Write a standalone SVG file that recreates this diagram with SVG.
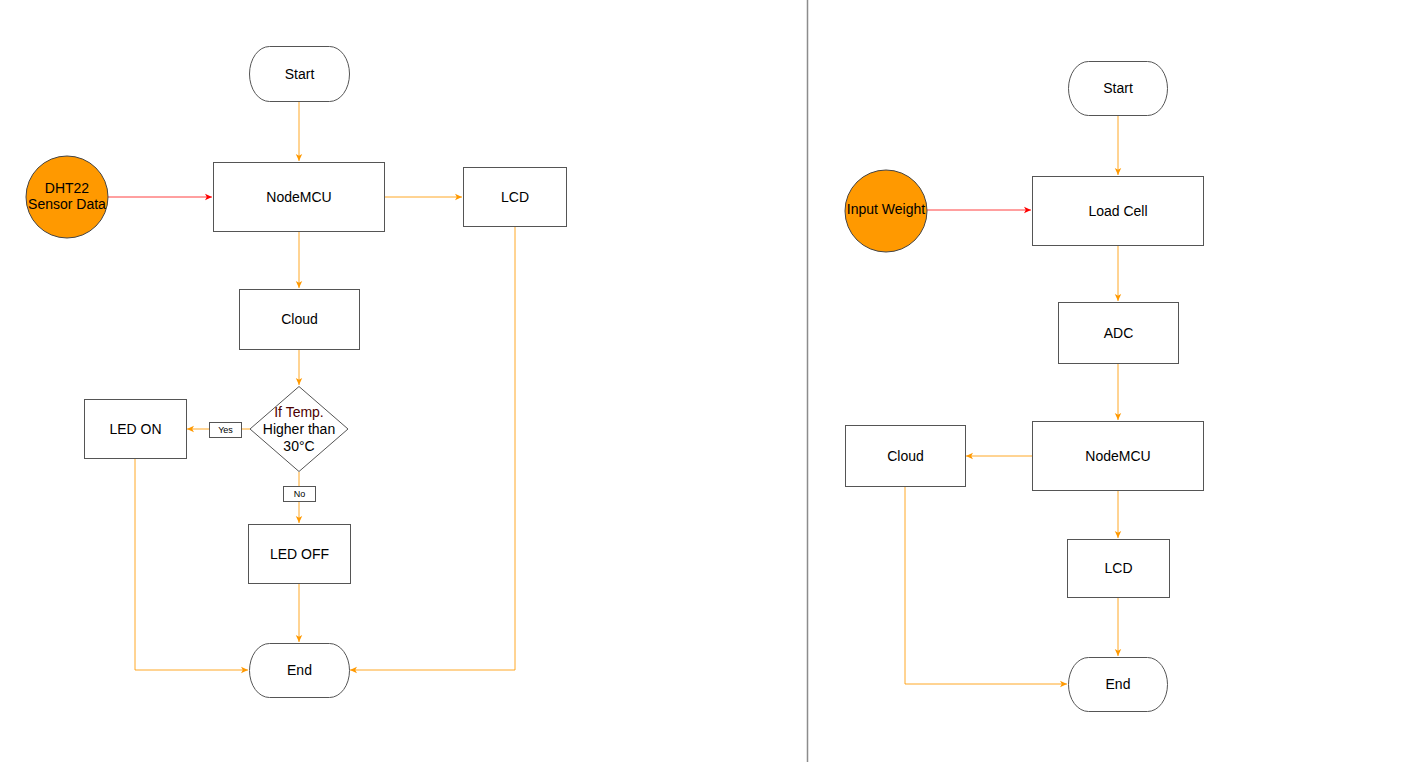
<svg xmlns="http://www.w3.org/2000/svg" width="1417" height="762" viewBox="0 0 1417 762">
<style>
.box{fill:#fff;stroke:#555;stroke-width:1}
.term{fill:#fff;stroke:#555;stroke-width:1}
.circ{fill:#FF9900;stroke:#444;stroke-width:1}
.lbl{fill:#fff;stroke:#555;stroke-width:1}
text{font-family:"Liberation Sans",Arial,sans-serif;font-size:14px;fill:#000;text-anchor:middle;dominant-baseline:central}
.small{font-size:9px}
.c{fill:none;stroke:#FF9900;stroke-width:1;stroke-opacity:0.85}
.r{fill:none;stroke:#FF0000;stroke-width:1;stroke-opacity:0.75}
</style>
<defs>
<marker id="ao" markerWidth="8" markerHeight="8" refX="7" refY="4" orient="auto" markerUnits="userSpaceOnUse"><path d="M0,0.8 L7,4 L0,7.2 L1.8,4 Z" fill="#FF9900"/></marker>
<marker id="ar" markerWidth="8" markerHeight="8" refX="7" refY="4" orient="auto" markerUnits="userSpaceOnUse"><path d="M0,0.8 L7,4 L0,7.2 L1.8,4 Z" fill="#FF0000"/></marker>
</defs>
<rect width="1417" height="762" fill="#fff"/>
<line x1="807.5" y1="0" x2="807.5" y2="762" stroke="#8c8c8c" stroke-width="1.5"/>

<g id="connectors">
<path class="c" d="M299,101 V161" marker-end="url(#ao)"/>
<path class="r" d="M108,197 H212" marker-end="url(#ar)"/>
<path class="c" d="M385,197 H462" marker-end="url(#ao)"/>
<path class="c" d="M299,231 V288" marker-end="url(#ao)"/>
<path class="c" d="M299,349 V385" marker-end="url(#ao)"/>
<path class="c" d="M250,429 H187" marker-end="url(#ao)"/>
<path class="c" d="M299,472 V523" marker-end="url(#ao)"/>
<path class="c" d="M299,583 V642" marker-end="url(#ao)"/>
<path class="c" d="M135,458 V670 H248" marker-end="url(#ao)"/>
<path class="c" d="M515,226 V670 H350" marker-end="url(#ao)"/>

<path class="c" d="M1118,115 V175" marker-end="url(#ao)"/>
<path class="r" d="M927,210 H1031" marker-end="url(#ar)"/>
<path class="c" d="M1118,245 V301" marker-end="url(#ao)"/>
<path class="c" d="M1118,363 V420" marker-end="url(#ao)"/>
<path class="c" d="M1032,456 H966" marker-end="url(#ao)"/>
<path class="c" d="M1118,490 V538" marker-end="url(#ao)"/>
<path class="c" d="M1118,597 V656" marker-end="url(#ao)"/>
<path class="c" d="M905,486 V684 H1067" marker-end="url(#ao)"/>
</g>

<g id="l-start"><rect class="term" x="249.5" y="46.5" width="100" height="55" rx="20" ry="27.5"/><text x="299.5" y="74">Start</text></g>
<g id="l-dht22"><circle class="circ" cx="67" cy="197" r="41"/><text x="67" y="188">DHT22</text><text x="67" y="204">Sensor Data</text></g>
<g id="l-nodemcu"><rect class="box" x="213.5" y="162.5" width="171" height="69"/><text x="299" y="197">NodeMCU</text></g>
<g id="l-lcd"><rect class="box" x="463.5" y="167.5" width="103" height="59"/><text x="515" y="197">LCD</text></g>
<g id="l-cloud"><rect class="box" x="239.5" y="289.5" width="120" height="60"/><text x="299.5" y="319">Cloud</text></g>
<g id="l-decision"><path class="box" d="M299,386.5 L348,429 L299,471.5 L250,429 Z"/><text x="299" y="412" fill="#4d0000" style="fill:#4d0000">If Temp.</text><text x="299" y="429">Higher than</text><text x="299" y="446">30°C</text></g>
<g id="l-yes"><rect class="lbl" x="209.5" y="422.5" width="32" height="15"/><text class="small" x="225.5" y="430">Yes</text></g>
<g id="l-ledon"><rect class="box" x="84.5" y="399.5" width="102" height="59"/><text x="135.5" y="429">LED ON</text></g>
<g id="l-no"><rect class="lbl" x="283.5" y="486.5" width="32" height="15"/><text class="small" x="299.5" y="494">No</text></g>
<g id="l-ledoff"><rect class="box" x="248.5" y="524.5" width="102" height="59"/><text x="299.5" y="554">LED OFF</text></g>
<g id="l-end"><rect class="term" x="249.5" y="643.5" width="100" height="54" rx="20" ry="27"/><text x="299.5" y="670">End</text></g>

<g id="r-start"><rect class="term" x="1068.5" y="61.5" width="99" height="54" rx="20" ry="27"/><text x="1118" y="88">Start</text></g>
<g id="r-weight"><circle class="circ" cx="886" cy="211" r="41"/><text x="886" y="209">Input Weight</text></g>
<g id="r-loadcell"><rect class="box" x="1032.5" y="176.5" width="171" height="69"/><text x="1118" y="211">Load Cell</text></g>
<g id="r-adc"><rect class="box" x="1058.5" y="302.5" width="120" height="61"/><text x="1118.5" y="333">ADC</text></g>
<g id="r-nodemcu"><rect class="box" x="1032.5" y="421.5" width="171" height="69"/><text x="1118" y="456">NodeMCU</text></g>
<g id="r-cloud"><rect class="box" x="845.5" y="425.5" width="120" height="61"/><text x="905.5" y="456">Cloud</text></g>
<g id="r-lcd"><rect class="box" x="1067.5" y="539.5" width="102" height="58"/><text x="1118.5" y="568">LCD</text></g>
<g id="r-end"><rect class="term" x="1068.5" y="657.5" width="99" height="54" rx="20" ry="27"/><text x="1118" y="684">End</text></g>
</svg>
